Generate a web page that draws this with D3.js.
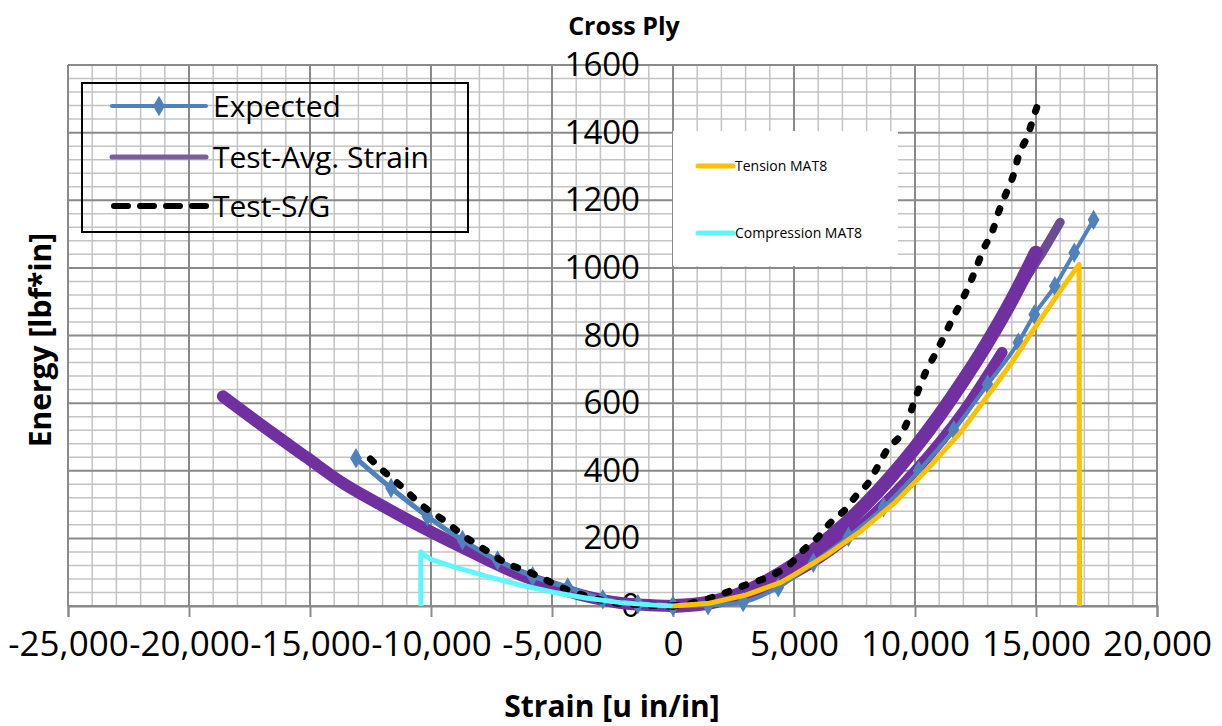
<!DOCTYPE html>
<html>
<head>
<meta charset="utf-8">
<script src="https://cdn.jsdelivr.net/npm/d3@7"></script>
<style>
  body { margin: 0; background: #fff; }
  svg { display: block; }
  .tick-label { font-family: 'Open Sans', sans-serif; fill: #000; }
  .axis-title { font-family: 'Open Sans', sans-serif; font-weight: bold; fill: #000; }
</style>
</head>
<body>
<svg id="chart" width="1222" height="726"></svg>
<script>
// ===================================
// Data
// ===================================

const xTicks = [-25000, -20000, -15000, -10000, -5000, 0, 5000, 10000, 15000, 20000];
const yTicks = [0, 200, 400, 600, 800, 1000, 1200, 1400, 1600];

// Expected: [strain, energy]
const expectedRight = [
  [0, 0], [1450, 2], [2900, 12], [4350, 55], [5800, 128], [7250, 205], [8700, 292],
  [10150, 400], [11600, 520], [13000, 655], [14270, 779], [14930, 862], [15780, 946],
  [16580, 1045], [17380, 1142],
];
const expectedLeft = [
  [0, 0], [-1450, 5], [-2900, 20], [-4350, 55], [-5800, 88], [-7250, 135],
  [-8700, 195], [-10150, 265], [-11650, 349], [-13100, 437],
];

// Test-Avg. Strain
const avgStrainRightA = [
  [0, 0], [1500, 10], [3000, 42], [4000, 78], [5000, 122], [6000, 175], [7000, 235],
  [8000, 304], [9000, 382], [10000, 468], [11000, 563], [12000, 667], [13000, 780],
  [14000, 905], [15000, 1045],
];
const avgStrainRightTail = [[13500, 840], [14500, 960], [15300, 1050], [16000, 1135]];
const avgStrainRightB = [
  [0, 0], [2000, 15], [4000, 62], [6000, 140], [8000, 252], [10000, 398],
  [12000, 575], [13600, 750],
];
const avgStrainLeft = [
  [0, 0], [-2150, 9], [-3550, 28], [-4900, 57], [-6300, 92], [-7650, 136],
  [-9050, 185], [-10700, 245], [-12050, 298], [-13700, 366], [-15150, 440],
  [-17000, 535], [-18600, 620],
];

// Test-S/G
const sgRight = [
  [0, 0], [1000, 12], [2000, 35], [3000, 62], [4000, 88], [4800, 121], [5400, 166],
  [6000, 204], [6500, 246], [7100, 284], [7600, 329], [8100, 367], [8500, 418],
  [8900, 468], [9350, 500], [9750, 557], [9950, 601], [10100, 631], [10450, 693],
  [10850, 747], [11200, 797], [11550, 850], [11900, 898], [12250, 951], [12550, 1004],
  [12850, 1058], [13200, 1108], [13450, 1164], [13750, 1218], [14050, 1271],
  [14300, 1336], [14650, 1390], [14900, 1446], [15200, 1510],
];
const sgLeft = [
  [0, 0], [-1600, 5], [-2700, 13], [-3500, 28], [-4350, 47], [-5100, 72], [-6000, 102],
  [-6900, 127], [-7650, 161], [-8500, 200], [-9500, 255], [-10400, 299],
  [-11150, 349], [-11950, 398], [-12650, 445],
];

// MAT8 model curves
const tensionMat8 = [
  [0, 0], [1500, 8], [3000, 32], [4460, 70], [5000, 92], [6400, 153], [7770, 222],
  [9140, 304], [10520, 405], [11900, 515], [13270, 648], [14000, 720], [14920, 820],
  [16030, 935], [16780, 1010], [16800, 0],
];
const compressionMat8 = [
  [0, 0], [-800, 3], [-2150, 10], [-3550, 23], [-4900, 40], [-6300, 62], [-7650, 87],
  [-9050, 116], [-10000, 138], [-10300, 152], [-10420, 160], [-10420, 0],
];

const legendMain = ['Expected', 'Test-Avg. Strain', 'Test-S/G'];
const legendModel = ['Tension MAT8', 'Compression MAT8'];

// ===================================
// Layout
// ===================================

const svg = d3.select('#chart');
const plot = { left: 68, right: 1157, top: 65, bottom: 606 };

const x = d3.scaleLinear().domain([-25000, 20000]).range([plot.left, plot.right]);
const y = d3.scaleLinear().domain([0, 1600]).range([plot.bottom, plot.top]);

const line = d3.line().x((d) => x(d[0])).y((d) => y(d[1])).curve(d3.curveMonotoneX);
const straight = d3.line().x((d) => x(d[0])).y((d) => y(d[1]));

const COLORS = {
  expected: '#4f81bd',
  avg: '#7030a0',
  avgLight: '#6a4c93',
  sg: '#000',
  tension: '#ffc000',
  compression: '#5ff7ff',
};

// Grid
const grid = svg.append('g').attr('class', 'grid');
const minorX = d3.range(-25000, 20001, 1000).filter((v) => v % 5000 !== 0);
const minorY = d3.range(0, 1601, 40).filter((v) => v % 200 !== 0);

grid.selectAll('.minor-x').data(minorX).join('line')
  .attr('x1', (d) => x(d)).attr('x2', (d) => x(d))
  .attr('y1', plot.top).attr('y2', plot.bottom)
  .attr('stroke', '#c4c4c4').attr('stroke-width', 1.5);
grid.selectAll('.minor-y').data(minorY).join('line')
  .attr('x1', plot.left).attr('x2', plot.right)
  .attr('y1', (d) => y(d)).attr('y2', (d) => y(d))
  .attr('stroke', '#c4c4c4').attr('stroke-width', 1.5);
grid.selectAll('.major-x').data(xTicks).join('line')
  .attr('x1', (d) => x(d)).attr('x2', (d) => x(d))
  .attr('y1', plot.top).attr('y2', plot.bottom)
  .attr('stroke', '#8a8a8a').attr('stroke-width', 2);
grid.selectAll('.major-y').data(yTicks).join('line')
  .attr('x1', plot.left).attr('x2', plot.right)
  .attr('y1', (d) => y(d)).attr('y2', (d) => y(d))
  .attr('stroke', '#8a8a8a').attr('stroke-width', 2);

// X axis (tick marks below the axis line), plain hyphen for negatives
const commaFmt = d3.format(',');
const xAxis = d3.axisBottom(x)
  .tickValues(xTicks)
  .tickSize(11)
  .tickPadding(14)
  .tickFormat((d) => commaFmt(d).replace('\u2212', '-'));
const xAxisG = svg.append('g')
  .attr('transform', `translate(0,${plot.bottom})`)
  .call(xAxis);
xAxisG.select('.domain').attr('stroke', '#8a8a8a').attr('stroke-width', 2);
xAxisG.selectAll('.tick line').attr('stroke', '#8a8a8a').attr('stroke-width', 2);
xAxisG.selectAll('.tick text')
  .attr('class', 'tick-label')
  .style('font-size', '35px')
  .attr('dy', '0.71em');

// Y axis sits on x = 0
const yAxis = d3.axisLeft(y).tickValues(yTicks).tickSize(0).tickPadding(33).tickFormat(d3.format('d'));
const yAxisG = svg.append('g')
  .attr('transform', `translate(${x(0)},0)`)
  .call(yAxis);
yAxisG.select('.domain').remove();
yAxisG.selectAll('.tick text')
  .attr('class', 'tick-label')
  .style('font-size', '33px');

// ===================================
// Series
// ===================================

const series = svg.append('g').attr('class', 'series');

function drawLine(data, color, width, gen) {
  return series.append('path')
    .datum(data)
    .attr('d', gen || line)
    .attr('fill', 'none')
    .attr('stroke', color)
    .attr('stroke-width', width)
    .attr('stroke-linejoin', 'round')
    .attr('stroke-linecap', 'round');
}

// Test-Avg. Strain
drawLine(avgStrainRightTail, COLORS.avgLight, 9);
drawLine(avgStrainRightA, COLORS.avg, 14);
drawLine(avgStrainRightB, COLORS.avg, 11);
drawLine(avgStrainLeft, COLORS.avg, 12);

// Expected
drawLine(expectedRight, COLORS.expected, 4);
drawLine(expectedLeft, COLORS.expected, 5);
const diamond = d3.symbol().type(d3.symbolDiamond).size(120);
series.selectAll('.marker')
  .data(expectedRight.concat(expectedLeft))
  .join('path')
  .attr('d', diamond)
  .attr('transform', (d) => `translate(${x(d[0])},${y(d[1])})`)
  .attr('fill', COLORS.expected);

// Test-S/G
drawLine(sgRight, COLORS.sg, 7).attr('stroke-dasharray', '4,14');
drawLine(sgLeft, COLORS.sg, 7).attr('stroke-dasharray', '4,14');

// MAT8 (the drop at failure is a straight vertical segment)
drawLine(tensionMat8, COLORS.tension, 5, straight).attr('stroke-linecap', 'butt');
drawLine(compressionMat8, COLORS.compression, 5, straight).attr('stroke-linecap', 'butt');

// ===================================
// Legends
// ===================================

// Main legend: transparent box with black border
const legend = svg.append('g').attr('transform', 'translate(82,83)');
legend.append('rect')
  .attr('width', 386).attr('height', 149)
  .attr('fill', 'none').attr('stroke', '#000').attr('stroke-width', 2);

const legendY = [23, 74, 123];
legendMain.forEach((name, i) => {
  const g = legend.append('g').attr('transform', `translate(0,${legendY[i]})`);
  if (i === 0) {
    g.append('line').attr('x1', 30).attr('x2', 124)
      .attr('stroke', COLORS.expected).attr('stroke-width', 4).attr('stroke-linecap', 'round');
    g.append('path').attr('d', diamond).attr('transform', 'translate(77,0)').attr('fill', COLORS.expected);
  } else if (i === 1) {
    g.append('line').attr('x1', 30).attr('x2', 124)
      .attr('stroke', '#7a5f9c').attr('stroke-width', 5).attr('stroke-linecap', 'round');
  } else {
    g.append('line').attr('x1', 32).attr('x2', 124)
      .attr('stroke', '#000').attr('stroke-width', 6)
      .attr('stroke-linecap', 'round').attr('stroke-dasharray', '14,12');
  }
  g.append('text')
    .attr('x', 131).attr('dy', '0.35em')
    .attr('class', 'tick-label')
    .style('font-size', '30px')
    .text(name);
});

// Model legend: white box, no border
const legend2 = svg.append('g').attr('transform', 'translate(673,131)');
legend2.append('rect').attr('width', 225).attr('height', 135).attr('fill', '#fff');
const model2Colors = [COLORS.tension, COLORS.compression];
const legend2Y = [35, 102];
legendModel.forEach((name, i) => {
  const g = legend2.append('g').attr('transform', `translate(0,${legend2Y[i]})`);
  g.append('line').attr('x1', 25).attr('x2', 60)
    .attr('stroke', model2Colors[i]).attr('stroke-width', 5).attr('stroke-linecap', 'round');
  g.append('text')
    .attr('x', 62).attr('dy', '0.35em')
    .attr('class', 'tick-label')
    .style('font-size', '14px')
    .text(name);
});

// ===================================
// Titles
// ===================================

svg.append('text')
  .attr('class', 'axis-title')
  .attr('x', 624).attr('y', 35)
  .attr('text-anchor', 'middle')
  .style('font-size', '25px')
  .text('Cross Ply');

svg.append('text')
  .attr('class', 'axis-title')
  .attr('x', 612).attr('y', 717)
  .attr('text-anchor', 'middle')
  .style('font-size', '30px')
  .text('Strain [u in/in]');

svg.append('text')
  .attr('class', 'axis-title')
  .attr('transform', 'translate(51,340) rotate(-90)')
  .attr('text-anchor', 'middle')
  .style('font-size', '30px')
  .text('Energy [lbf*in]');
</script>
</body>
</html>
